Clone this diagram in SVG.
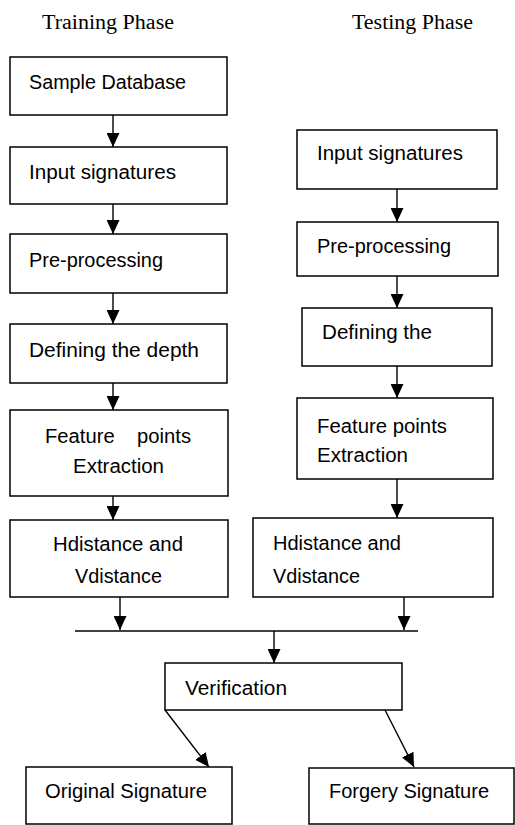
<svg xmlns="http://www.w3.org/2000/svg" width="515" height="825" viewBox="0 0 515 825">
<style>
.box{fill:#fff;stroke:#000;stroke-width:1.5}
.t{font-family:"Liberation Sans",Arial,sans-serif;font-size:20px;fill:#000}
.h{font-family:"Liberation Serif","Times New Roman",serif;font-size:20px;fill:#000}
.c{stroke:#000;stroke-width:1.4;fill:none}
</style>
<defs>
<marker id="ah" markerUnits="userSpaceOnUse" markerWidth="14" markerHeight="13" refX="14" refY="6.5" orient="auto" viewBox="0 0 14 13">
<path d="M0,0 L14,6.5 L0,13 Z" fill="#000"/>
</marker>
</defs>
<rect width="515" height="825" fill="#fff"/>
<text class="h" x="42" y="29" textLength="132" lengthAdjust="spacingAndGlyphs">Training Phase</text>
<text class="h" x="352" y="29" textLength="121" lengthAdjust="spacingAndGlyphs">Testing Phase</text>
<g id="connectors">
<line class="c" x1="113" y1="115" x2="113" y2="147" marker-end="url(#ah)"/>
<line class="c" x1="113" y1="204" x2="113" y2="234" marker-end="url(#ah)"/>
<line class="c" x1="113" y1="293" x2="113" y2="324" marker-end="url(#ah)"/>
<line class="c" x1="113" y1="383" x2="113" y2="410" marker-end="url(#ah)"/>
<line class="c" x1="113" y1="496" x2="113" y2="520" marker-end="url(#ah)"/>
<line class="c" x1="397" y1="189" x2="397" y2="222" marker-end="url(#ah)"/>
<line class="c" x1="397" y1="276" x2="397" y2="308" marker-end="url(#ah)"/>
<line class="c" x1="397" y1="366" x2="397" y2="398" marker-end="url(#ah)"/>
<line class="c" x1="397" y1="479" x2="397" y2="518" marker-end="url(#ah)"/>
<line class="c" x1="120" y1="597" x2="120" y2="630" marker-end="url(#ah)"/>
<line class="c" x1="404" y1="597" x2="404" y2="630" marker-end="url(#ah)"/>
<line class="c" x1="75" y1="631" x2="418" y2="631"/>
<line class="c" x1="274" y1="631" x2="274" y2="663" marker-end="url(#ah)"/>
<line class="c" x1="165" y1="710" x2="209" y2="767" marker-end="url(#ah)"/>
<line class="c" x1="385" y1="710" x2="414" y2="767" marker-end="url(#ah)"/>
</g>
<g id="sample-db"><rect class="box" x="10" y="57" width="217" height="58"/><text class="t" x="29" y="89" textLength="157" lengthAdjust="spacingAndGlyphs">Sample Database</text></g>
<g id="train-input"><rect class="box" x="10" y="147" width="217" height="57"/><text class="t" x="29" y="179" textLength="147" lengthAdjust="spacingAndGlyphs">Input signatures</text></g>
<g id="train-pre"><rect class="box" x="10" y="234" width="217" height="59"/><text class="t" x="29" y="267" textLength="134" lengthAdjust="spacingAndGlyphs">Pre-processing</text></g>
<g id="train-depth"><rect class="box" x="10" y="324" width="217" height="59"/><text class="t" x="29" y="357" textLength="170" lengthAdjust="spacingAndGlyphs">Defining the depth</text></g>
<g id="train-feature"><rect class="box" x="10" y="410" width="218" height="86"/><text class="t" x="45" y="443" textLength="146" lengthAdjust="spacingAndGlyphs" xml:space="preserve">Feature    points</text><text class="t" x="73" y="473" textLength="91" lengthAdjust="spacingAndGlyphs">Extraction</text></g>
<g id="train-dist"><rect class="box" x="10" y="520" width="218" height="77"/><text class="t" x="53" y="551" textLength="130" lengthAdjust="spacingAndGlyphs">Hdistance and</text><text class="t" x="75" y="583" textLength="87" lengthAdjust="spacingAndGlyphs">Vdistance</text></g>
<g id="test-input"><rect class="box" x="297" y="130" width="200" height="59"/><text class="t" x="317" y="160" textLength="146" lengthAdjust="spacingAndGlyphs">Input signatures</text></g>
<g id="test-pre"><rect class="box" x="297" y="222" width="201" height="54"/><text class="t" x="317" y="253" textLength="134" lengthAdjust="spacingAndGlyphs">Pre-processing</text></g>
<g id="test-depth"><rect class="box" x="302" y="308" width="190" height="58"/><text class="t" x="322" y="339" textLength="110" lengthAdjust="spacingAndGlyphs">Defining the</text></g>
<g id="test-feature"><rect class="box" x="297" y="398" width="196" height="81"/><text class="t" x="317" y="433" textLength="130" lengthAdjust="spacingAndGlyphs">Feature points</text><text class="t" x="317" y="462" textLength="91" lengthAdjust="spacingAndGlyphs">Extraction</text></g>
<g id="test-dist"><rect class="box" x="253" y="518" width="240" height="79"/><text class="t" x="273" y="550" textLength="128" lengthAdjust="spacingAndGlyphs">Hdistance and</text><text class="t" x="273" y="583" textLength="87" lengthAdjust="spacingAndGlyphs">Vdistance</text></g>
<g id="verification"><rect class="box" x="165" y="663" width="237" height="47"/><text class="t" x="185" y="695" textLength="102" lengthAdjust="spacingAndGlyphs">Verification</text></g>
<g id="original"><rect class="box" x="26" y="767" width="206" height="57"/><text class="t" x="45" y="798" textLength="162" lengthAdjust="spacingAndGlyphs">Original Signature</text></g>
<g id="forgery"><rect class="box" x="309" y="768" width="205" height="56"/><text class="t" x="329" y="798" textLength="160" lengthAdjust="spacingAndGlyphs">Forgery Signature</text></g>
</svg>
